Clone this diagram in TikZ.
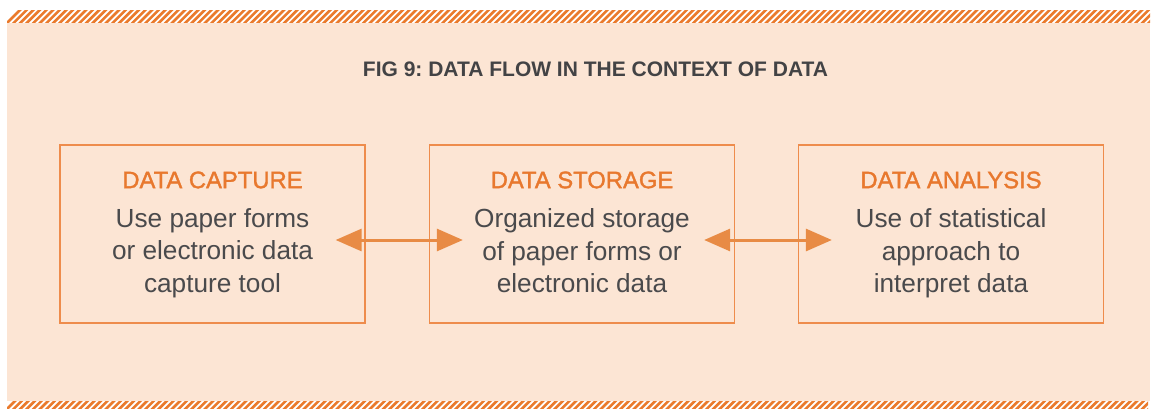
\documentclass[tikz,border=0pt]{standalone}
\usepackage{fontspec}
\setmainfont{Liberation Sans}
\newfontfamily\medfont[FakeBold=1.5]{Liberation Sans}
\usetikzlibrary{arrows.meta}
\frenchspacing
\definecolor{bgpeach}{HTML}{FCE5D4}
\definecolor{orng}{HTML}{E8782E}
\definecolor{boxline}{HTML}{EE8C4C}
\definecolor{arrowc}{HTML}{E88B45}
\definecolor{hatchc}{HTML}{EA7A2C}
\definecolor{titlec}{HTML}{434345}
\definecolor{bodyc}{HTML}{4A4A4C}
\tikzset{
  stage/.style={draw=boxline, line width=1.3pt, minimum width=305pt, minimum height=178pt, inner sep=0pt},
  head/.style={text=orng, font=\medfont\fontsize{23.8}{28}\selectfont},
  body/.style={text=bodyc, font=\fontsize{26.2}{32.5}\selectfont, align=center},
  flow/.style={draw=arrowc, line width=3pt, {Triangle[length=26pt,width=22pt]}-{Triangle[length=26pt,width=22pt]}},
  hatch/.style={draw=hatchc, line width=2.6pt}
}
\begin{document}
\begin{tikzpicture}[x=1pt,y=-1pt]
\useasboundingbox (0,0) rectangle (1154,409);
\fill[white] (0,0) rectangle (1154,409);
\fill[bgpeach] (7,23) rectangle (1150,401);
% top hatch band
\begin{scope}
\clip (7,11) rectangle (1150,23);
\foreach \i in {0,...,175}{
  \draw[hatch] ({7+\i*6.6-2},25) -- ({7+\i*6.6+16},7);
}
\end{scope}
% bottom hatch band
\begin{scope}
\clip (7,401) rectangle (1148,409);
\foreach \i in {0,...,175}{
  \draw[hatch] ({7+\i*6.6-2},411) -- ({7+\i*6.6+16},393);
}
\end{scope}
\node[text=titlec, font=\bfseries\fontsize{21}{24}\selectfont] (title) at (595.5,69) {FIG 9: DATA FLOW IN THE CONTEXT OF DATA};
\node[stage] (cap) at (212.5,234) {};
\node[stage] (sto) at (582,234) {};
\node[stage] (ana) at (951,234) {};
\node[head] (caph) at (212.5,180) {DATA CAPTURE};
\node[head] (stoh) at (582,180) {DATA STORAGE};
\node[head] (anah) at (951,180) {DATA ANALYSIS};
\node[body, anchor=north] (capb) at (212.5,205) {Use paper forms\\or electronic data\\capture tool};
\node[body, anchor=north] (stob) at (582,205) {Organized storage\\of paper forms or\\electronic data};
\node[body, anchor=north] (anab) at (951,205) {Use of statistical\\approach to\\interpret data};
\draw[flow] ([xshift=-30pt,yshift=-6pt]cap.east) -- ([xshift=34pt,yshift=-6pt]sto.west);
\draw[flow] ([xshift=-31pt,yshift=-6pt]sto.east) -- ([xshift=34pt,yshift=-6pt]ana.west);
\end{tikzpicture}
\end{document}
